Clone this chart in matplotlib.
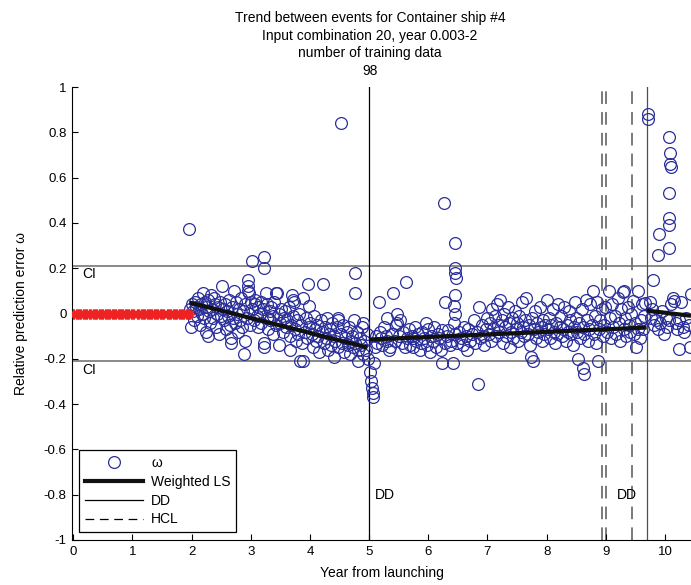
import matplotlib
matplotlib.use("Agg")
import matplotlib.pyplot as plt
from matplotlib.lines import Line2D

plt.rcParams['font.family'] = ['Liberation Sans', 'DejaVu Sans']
plt.rcParams['axes.unicode_minus'] = False

# Training inputs (years 0.003-2), errors at zero
train_years = [0.003, 0.02, 0.04, 0.06, 0.08, 0.10, 0.12, 0.14, 0.16, 0.18,
               0.20, 0.22, 0.24, 0.26, 0.28, 0.30, 0.33, 0.35, 0.37, 0.39,
               0.41, 0.43, 0.45, 0.47, 0.49, 0.51, 0.53, 0.55, 0.57, 0.59,
               0.61, 0.63, 0.65, 0.67, 0.69, 0.71, 0.73, 0.75, 0.77, 0.79,
               0.81, 0.83, 0.85, 0.87, 0.89, 0.91, 0.93, 0.95, 0.97, 0.99,
               1.01, 1.03, 1.08, 1.10, 1.12, 1.14, 1.16, 1.18, 1.20, 1.22,
               1.24, 1.26, 1.28, 1.30, 1.32, 1.34, 1.36, 1.38, 1.40, 1.42,
               1.44, 1.46, 1.48, 1.50, 1.52, 1.54, 1.58, 1.60, 1.62, 1.64,
               1.66, 1.68, 1.70, 1.72, 1.74, 1.76, 1.78, 1.80, 1.82, 1.84,
               1.86, 1.88, 1.90, 1.92, 1.94, 1.95, 1.96, 1.97]
train_err = [0.0] * len(train_years)

# Relative prediction error between events, years 2-5
years_a = [1.96, 1.97, 1.99, 2.01, 2.03, 2.04, 2.06, 2.08, 2.09, 2.11, 2.13, 2.14, 2.16, 2.18, 2.19,
           2.21, 2.22, 2.24, 2.25, 2.27, 2.28, 2.30, 2.31, 2.33, 2.35, 2.36, 2.38, 2.40, 2.41,
           2.43, 2.45, 2.46, 2.48, 2.49,
           2.52, 2.53, 2.55, 2.57, 2.58, 2.60, 2.62, 2.63, 2.65, 2.66, 2.66, 2.68, 2.70, 2.71,
           2.73, 2.75, 2.77, 2.78, 2.80, 2.82, 2.83, 2.85, 2.87, 2.88, 2.90, 2.91, 2.93, 2.95,
           2.96, 2.96, 2.97, 2.98,
           3.00, 3.02, 3.03, 3.05, 3.07, 3.08, 3.10, 3.12, 3.13, 3.15, 3.17, 3.18, 3.20, 3.22,
           3.22, 3.22, 3.23, 3.25, 3.27, 3.28, 3.30, 3.32, 3.33, 3.35, 3.37, 3.38, 3.40, 3.42,
           3.43, 3.45, 3.47, 3.48,
           3.50, 3.52, 3.54, 3.56, 3.58, 3.60, 3.62, 3.64, 3.66, 3.67, 3.68, 3.70, 3.71, 3.72,
           3.73, 3.74, 3.76, 3.78, 3.80, 3.82, 3.84, 3.85, 3.87, 3.89, 3.89, 3.91, 3.93, 3.95,
           3.96, 3.98, 3.99,
           4.01, 4.03, 4.05, 4.07, 4.08, 4.10, 4.12, 4.14, 4.16, 4.18, 4.20, 4.22, 4.23, 4.25,
           4.27, 4.29, 4.30, 4.32, 4.34, 4.36, 4.38, 4.40, 4.41, 4.43, 4.45, 4.47, 4.47, 4.48,
           4.52, 4.52, 4.54, 4.56, 4.58, 4.60, 4.62, 4.64, 4.66, 4.68, 4.69, 4.71, 4.73, 4.74,
           4.76, 4.77, 4.77, 4.79, 4.81, 4.82, 4.84, 4.86, 4.88, 4.90, 4.90, 4.92, 4.94, 4.96,
           4.98]
err_a = [0.375, 0.02, -0.06, 0.04, 0.01, -0.03, 0.05, 0.03, -0.01, 0.07, 0.02, -0.05, 0.04, 0.00, 0.09,
         -0.02, 0.05, 0.03, -0.08, -0.10, 0.06, 0.01, -0.04, 0.08, 0.02, -0.02, 0.07, 0.04, -0.06,
         0.00, 0.03, -0.09, 0.05, -0.01,
         0.12, 0.02, -0.03, 0.04, -0.07, 0.01, -0.01, 0.06, -0.05, -0.11, -0.13, 0.03, -0.02, 0.10,
         -0.04, 0.05, 0.00, -0.08, 0.02, -0.03, 0.07, -0.06, 0.01, -0.18, -0.12, 0.04, -0.02, 0.15,
         0.12, 0.10, 0.09, -0.05,
         0.05, 0.23, 0.02, -0.03, 0.06, 0.04, -0.01, 0.03, -0.06, 0.00, 0.05, -0.04, 0.02, 0.25,
         0.20, -0.13, -0.15, 0.09, -0.02, 0.04, -0.07, 0.01, -0.03, 0.03, -0.09, -0.01, 0.05, 0.09,
         -0.05, 0.09, -0.14, 0.00,
         -0.04, 0.02, -0.08, -0.02, 0.01, -0.06, -0.03, 0.03, -0.10, -0.16, -0.05, 0.08, -0.01, 0.06,
         0.05, -0.07, -0.12, -0.03, -0.09, 0.00, -0.21, -0.05, -0.13, 0.07, -0.21, -0.08, -0.02, -0.11,
         0.13, 0.035, -0.06,
         -0.04, -0.09, -0.15, -0.01, -0.07, -0.12, -0.05, -0.10, -0.17, -0.03, -0.08, 0.13, -0.13, -0.06,
         -0.11, -0.02, -0.16, -0.09, -0.07, -0.14, -0.04, -0.19, -0.10, -0.12, -0.06, -0.02, -0.03, -0.15,
         0.84, -0.09, -0.13, -0.05, -0.17, -0.11, -0.08, -0.14, -0.06, -0.18, -0.12, -0.10, -0.15, -0.03,
         -0.13, 0.18, 0.09, -0.08, -0.16, -0.21, -0.11, -0.14, -0.06, -0.04, -0.18, -0.12, -0.16, -0.09,
         -0.20]

# Years 5 to 9.7
years_b = [5.02, 5.04, 5.05, 5.06, 5.07, 5.08, 5.10, 5.12, 5.14, 5.16, 5.18, 5.20, 5.22, 5.25,
           5.28, 5.31, 5.31, 5.34, 5.36, 5.38, 5.41, 5.43, 5.46, 5.48, 5.48, 5.50,
           5.53, 5.55, 5.58, 5.60, 5.62, 5.64, 5.67, 5.70, 5.72, 5.75, 5.75, 5.78, 5.80, 5.83,
           5.86, 5.88, 5.90, 5.93, 5.96, 5.98, 6.00,
           6.03, 6.05, 6.08, 6.10, 6.13, 6.16, 6.19, 6.21, 6.24, 6.24, 6.26, 6.28, 6.29, 6.31,
           6.33, 6.36, 6.38, 6.41, 6.43, 6.43, 6.45, 6.46, 6.46, 6.46, 6.47, 6.46, 6.46, 6.49,
           6.52, 6.55, 6.58, 6.60, 6.63, 6.66, 6.68, 6.71, 6.74, 6.77, 6.79, 6.82, 6.84, 6.85,
           6.87, 6.90, 6.92, 6.95, 6.97, 7.00,
           7.02, 7.04, 7.06, 7.08, 7.10, 7.12, 7.14, 7.16, 7.18, 7.20, 7.22, 7.24, 7.26, 7.28,
           7.30, 7.32, 7.34, 7.36, 7.38, 7.40, 7.42, 7.44, 7.46, 7.48,
           7.50, 7.52, 7.54, 7.56, 7.58, 7.60, 7.62, 7.64, 7.66, 7.68, 7.70, 7.72, 7.73, 7.77,
           7.75, 7.78, 7.80, 7.82, 7.84, 7.86, 7.88, 7.90, 7.92, 7.94, 7.96, 7.98,
           8.00, 8.02, 8.04, 8.06, 8.08, 8.10, 8.12, 8.14, 8.16, 8.18, 8.20, 8.22, 8.24, 8.26,
           8.28, 8.30, 8.32, 8.34, 8.36, 8.38, 8.40, 8.42, 8.44, 8.46, 8.48,
           8.50, 8.52, 8.53, 8.55, 8.57, 8.59, 8.61, 8.62, 8.63, 8.64, 8.66, 8.68, 8.70, 8.72,
           8.74, 8.76, 8.78, 8.80, 8.82, 8.84, 8.86, 8.87, 8.89, 8.91, 8.93, 8.95, 8.97, 8.99,
           9.02, 9.05, 9.07, 9.09, 9.11, 9.13, 9.15, 9.17, 9.20, 9.22, 9.24, 9.26, 9.29, 9.30,
           9.31, 9.33, 9.35, 9.37, 9.39, 9.41, 9.43, 9.46, 9.47, 9.49, 9.51, 9.54, 9.55, 9.57,
           9.59, 9.61, 9.63, 9.65, 9.67]
err_b = [-0.26, -0.30, -0.33, -0.35, -0.37, -0.22, -0.15, -0.10, -0.13, 0.05, -0.08, -0.11, -0.14, -0.06,
         -0.10, -0.02, -0.12, -0.16, -0.15, -0.09, 0.09, -0.12, -0.05, 0.00, -0.04, -0.10,
         -0.03, -0.13, -0.08, -0.15, 0.14, -0.11, -0.07, -0.14, -0.10, -0.11, -0.15, -0.06, -0.12, -0.09,
         -0.16, -0.13, -0.08, -0.11, -0.04, -0.14, -0.07,
         -0.17, -0.10, -0.12, -0.06, -0.15, -0.09, -0.11, -0.16, -0.075, -0.22, 0.486, -0.13, 0.05, -0.10,
         -0.075, -0.14, -0.12, -0.22, 0.035, -0.044, -0.09, 0.31, 0.20, 0.18, 0.155, 0.08, 0.00, -0.13,
         -0.08, -0.11, -0.14, -0.06, -0.10, -0.16, -0.07, -0.12, -0.09, -0.03, -0.13, -0.08, -0.31, 0.03,
         -0.11, -0.05, -0.10, -0.14, -0.07, -0.02,
         -0.09, -0.04, -0.12, 0.02, -0.07, -0.01, -0.10, 0.04, -0.05, -0.08, 0.06, -0.03, -0.13, 0.00,
         -0.06, -0.10, 0.03, -0.04, -0.15, -0.08, -0.02, -0.11, 0.01, -0.07,
         -0.04, -0.12, -0.01, -0.08, 0.05, -0.06, -0.10, -0.03, 0.07, -0.09, -0.05, -0.14, -0.19, -0.21,
         -0.02, -0.07, 0.01, -0.11, -0.04, -0.08, 0.03, -0.06, -0.12, -0.03, -0.09, -0.05,
         0.06, -0.07, -0.02, -0.11, -0.05, 0.02, -0.08, -0.13, -0.04, -0.09, 0.04, -0.06, -0.01, -0.10,
         -0.07, 0.03, -0.12, -0.05, -0.08, 0.01, -0.03, -0.09, -0.14, -0.06, 0.05,
         -0.02, -0.08, -0.20, -0.04, -0.11, 0.02, -0.24, -0.06, -0.265, -0.09, 0.06, -0.03, -0.12, -0.07,
         0.04, -0.05, 0.10, -0.09, -0.01, -0.13, 0.05, -0.21, -0.07, -0.03, 0.02, -0.10, -0.05, 0.03,
         -0.08, 0.10, -0.02, -0.11, 0.04, -0.06, -0.01, -0.09, 0.07, -0.04, -0.12, 0.02, 0.093, 0.10,
         -0.07, -0.02, -0.10, 0.03, -0.05, -0.08, 0.00, 0.057, -0.09, -0.04, -0.15, 0.10, -0.07, -0.11,
         -0.03, 0.04, -0.07, -0.01, 0.045]

# Years after 9.7
years_c = [9.71, 9.72, 9.80, 9.88, 9.90, 10.07, 10.07, 10.07, 10.07, 10.10, 10.08, 10.08, 10.07,
           9.74, 9.76, 9.78, 9.82, 9.85, 9.88, 9.92, 9.95, 9.98, 10.01, 10.04, 10.07, 10.10,
           10.14, 10.15, 10.18, 10.20, 10.24, 10.24, 10.27, 10.30, 10.33, 10.36, 10.40, 10.43, 10.44]
err_c = [0.88, 0.86, 0.146, 0.26, 0.35, 0.29, 0.39, 0.42, 0.53, 0.645, 0.66, 0.71, 0.78,
         0.05, -0.02, 0.02, -0.05, -0.03, -0.07, -0.04, 0.01, -0.09, -0.02, -0.06, -0.03, 0.04,
         0.07, 0.057, -0.04, -0.07, -0.155, -0.03, 0.05, -0.06, -0.08, -0.02, -0.05, -0.15, 0.088]

# Weighted least-squares trend, one segment per interval between events
ls_x = [[1.97, 4.97], [5.0, 9.69], [9.69, 10.44]]
ls_y = [[0.048, -0.150], [-0.115, -0.062], [0.013, -0.010]]

ci_level = 0.21
dd_years = [5.0, 9.69]
hcl_years = [8.93, 9.0, 9.45]

yticks = [-1, -0.8, -0.6, -0.4, -0.2, 0, 0.2, 0.4, 0.6, 0.8, 1]
ytick_labels = ['-1', '-0.8', '-0.6', '-0.4', '-0.2', '0', '0.2', '0.4', '0.6', '0.8', '1']
xticks = [0, 1, 2, 3, 4, 5, 6, 7, 8, 9, 10]

fig = plt.figure(figsize=(6.91, 5.85), dpi=100)
ax = fig.add_axes([72 / 691, 1 - 540 / 585, 1 - 72 / 691, (540 - 87) / 585])

circ = '#2b2f9a'
ax.axhline(ci_level, color='#808080', lw=1.3, zorder=1)
ax.axhline(-ci_level, color='#808080', lw=1.3, zorder=1)

for i, xv in enumerate(dd_years):
    ax.axvline(xv, color='black' if i == 0 else '#505050', lw=0.9, zorder=1)
for xv in hcl_years:
    ax.axvline(xv, color='#707070', lw=1.3, ls=(0, (7, 4.5)), zorder=1)

ax.plot(train_years, train_err, ls='none', marker=(8, 2, 0), ms=7, mew=0.8,
        color='#ee2222', zorder=3)
for xs, ys in ((years_a, err_a), (years_b, err_b), (years_c, err_c)):
    ax.plot(xs, ys, ls='none', marker='o', ms=8.5, mfc='none', mec=circ, mew=0.9, zorder=2)
for xs, ys in zip(ls_x, ls_y):
    ax.plot(xs, ys, color='#111111', lw=3.0, solid_capstyle='butt', zorder=4)

ax.text(0.15, 0.175, 'CI', fontsize=10, va='center', ha='left')
ax.text(0.15, -0.25, 'CI', fontsize=10, va='center', ha='left')
ax.text(5.1, -0.8, 'DD', fontsize=10, va='center', ha='left')
ax.text(9.19, -0.8, 'DD', fontsize=10, va='center', ha='left')

ax.set_xlim(-0.02, 10.44)
ax.set_ylim(-1, 1)
ax.set_xticks(xticks)
ax.set_xticklabels([str(t) for t in xticks])
ax.set_yticks(yticks)
ax.set_yticklabels(ytick_labels)
ax.tick_params(direction='in', length=4, width=0.8, labelsize=9.5, pad=4)
ax.spines['top'].set_visible(False)
ax.spines['right'].set_visible(False)
for s in ('left', 'bottom'):
    ax.spines[s].set_linewidth(0.8)

ax.set_xlabel('Year from launching', fontsize=10, labelpad=6)
ax.set_ylabel('Relative prediction error ω', fontsize=10, labelpad=11)

fig.text(370 / 691, 1 - 11 / 585,
         'Trend between events for Container ship #4\nInput combination 20, year 0.003-2\n'
         'number of training data\n98',
         ha='center', va='top', fontsize=10, linespacing=1.32)

handles = [
    Line2D([], [], ls='none', marker='o', ms=8.5, mfc='none', mec=circ, mew=0.9),
    Line2D([], [], color='#111111', lw=3.0),
    Line2D([], [], color='black', lw=0.9),
    Line2D([], [], color='black', lw=0.9, ls=(0, (7, 4.5))),
]
leg = ax.legend(handles, ['ω', 'Weighted LS', 'DD', 'HCL'], loc='lower left',
                bbox_to_anchor=((79 - 72) / 619, (540 - 532) / 453),
                fontsize=10, frameon=True, fancybox=False, framealpha=1,
                edgecolor='black', handlelength=4.2, borderaxespad=0,
                labelspacing=0.35, handletextpad=0.6, borderpad=0.4)
leg.get_frame().set_linewidth(0.9)

fig.savefig('out.png', dpi=100)
